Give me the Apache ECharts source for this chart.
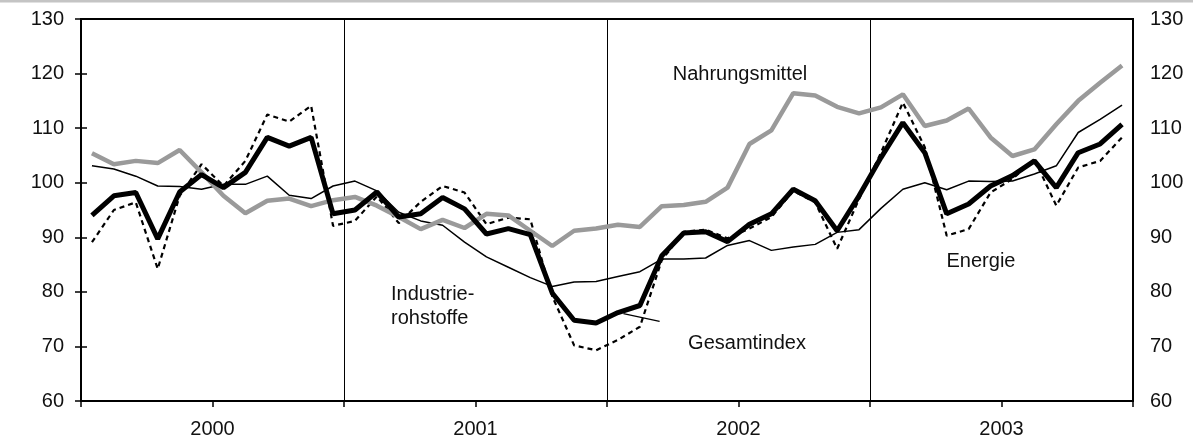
<!DOCTYPE html>
<html>
<head>
<meta charset="utf-8">
<script src="https://cdn.jsdelivr.net/npm/echarts@6/dist/echarts.min.js"></script>
<style>
  html, body { margin: 0; padding: 0; background: #fff; }
  #chart { width: 1193px; height: 439px; }
</style>
</head>
<body>
<div id="chart"></div>
<script>
// Jahre (je 12 Monatswerte)
var years = ['2000', '2001', '2002', '2003']
var yTicks = [60, 70, 80, 90, 100, 110, 120, 130]

var gesamtindex = [
  94.0, 97.6, 98.2, 89.7, 98.3, 101.5, 99.1, 101.9, 108.3, 106.7, 108.3, 94.3,
  95.0, 98.3, 93.7, 94.3, 97.3, 95.2, 90.6, 91.6, 90.5, 79.8, 74.8, 74.3,
  76.2, 77.5, 86.6, 90.8, 91.0, 89.2, 92.4, 94.3, 98.8, 96.7, 91.2, 97.6,
  104.6, 111.0, 105.5, 94.3, 96.1, 99.4, 101.3, 104.0, 99.1, 105.5, 107.1, 110.7
]
var energie = [
  89.1, 95.0, 96.4, 84.2, 97.6, 103.4, 99.4, 104.0, 112.5, 111.2, 114.1, 92.1,
  93.0, 97.5, 92.6, 96.5, 99.4, 98.2, 92.4, 93.6, 93.3, 79.2, 70.2, 69.3,
  71.2, 73.6, 85.8, 91.0, 91.4, 89.8, 91.6, 93.7, 98.5, 96.4, 87.9, 97.0,
  105.5, 114.7, 106.5, 90.3, 91.5, 98.2, 100.7, 104.3, 95.8, 102.8, 104.0, 108.3
]
var industrierohstoffe = [
  103.1, 102.5, 101.2, 99.4, 99.3, 98.8, 99.7, 99.7, 101.2, 97.7, 97.1, 99.4,
  100.3, 98.5, 94.6, 93.0, 92.2, 89.1, 86.4, 84.5, 82.6, 81.0, 81.8, 81.9,
  82.8, 83.7, 86.0, 86.0, 86.2, 88.5, 89.4, 87.6, 88.2, 88.7, 90.9, 91.4,
  95.3, 98.8, 100.0, 98.7, 100.3, 100.2, 100.3, 101.6, 103.1, 109.2, 111.6, 114.2
]
var nahrungsmittel = [
  105.4, 103.4, 104.0, 103.6, 106.0, 101.9, 97.6, 94.4, 96.7, 97.1, 95.7, 96.8,
  97.4, 95.8, 93.7, 91.5, 93.2, 91.7, 94.3, 94.0, 91.2, 88.4, 91.2, 91.6,
  92.3, 91.9, 95.7, 95.9, 96.5, 99.1, 107.1, 109.6, 116.4, 116.0, 113.9, 112.7,
  113.8, 116.2, 110.4, 111.4, 113.6, 108.3, 104.9, 106.1, 110.7, 115.0, 118.3, 121.5
]
// Hinweislinie zum Label "Gesamtindex" (Monat, Wert)
var gesamtLeader = [[24.75, 76.0], [26.4, 74.6]]

var font = 'Liberation Sans'
var textFont = '20px "Liberation Sans"'

// Monatswerte in der Monatsmitte platzieren
function toPoints (arr) {
  return arr.map(function (v, i) { return [i + 0.5, v] })
}

var myChart = echarts.init(document.getElementById('chart'))

var yAxisBase = function (pos) {
  return {
    type: 'value',
    position: pos,
    min: yTicks[0],
    max: yTicks[yTicks.length - 1],
    interval: 10,
    axisLine: { show: true, lineStyle: { color: '#000', width: 2 } },
    axisTick: { show: true, length: 6, lineStyle: { color: '#000', width: 1.5 } },
    axisLabel: { color: '#111', fontFamily: font, fontSize: 20, margin: 17 },
    splitLine: { show: false }
  }
}

var option = {
  animation: false,
  grid: {
    left: 81,
    right: 60,
    top: 19,
    bottom: 37,
    show: true,
    borderColor: '#000',
    borderWidth: 2
  },
  xAxis: [{
    type: 'value',
    min: 0,
    max: years.length * 12,
    interval: 6,
    axisLine: { show: true, lineStyle: { color: '#000', width: 2 } },
    axisTick: { show: true, length: 6, lineStyle: { color: '#000', width: 1.5 } },
    axisLabel: {
      color: '#111',
      fontFamily: font,
      fontSize: 20,
      margin: 18,
      formatter: function (v) {
        return v % 12 === 6 ? years[(v - 6) / 12] : ''
      }
    },
    splitLine: { show: false }
  }, {
    // Jahrestrennlinien
    type: 'value',
    position: 'bottom',
    min: 0,
    max: years.length * 12,
    interval: 12,
    axisLine: { show: false },
    axisTick: { show: false },
    axisLabel: { show: false },
    splitLine: { show: true, lineStyle: { color: '#000', width: 1 } }
  }],
  yAxis: [yAxisBase('left'), yAxisBase('right')],
  series: [
    {
      name: 'Industrierohstoffe',
      type: 'line',
      data: toPoints(industrierohstoffe),
      symbol: 'none',
      lineStyle: { color: '#000', width: 1.5 }
    },
    {
      name: 'Energie',
      type: 'line',
      data: toPoints(energie),
      symbol: 'none',
      lineStyle: { color: '#000', width: 2.2, type: [5, 4] }
    },
    {
      name: 'Nahrungsmittel',
      type: 'line',
      data: toPoints(nahrungsmittel),
      symbol: 'none',
      lineStyle: { color: '#9a9a9a', width: 4.5 }
    },
    {
      name: 'Gesamtindex',
      type: 'line',
      data: toPoints(gesamtindex),
      symbol: 'none',
      lineStyle: { color: '#000', width: 5 },
      markLine: {
        silent: true,
        symbol: 'none',
        label: { show: false },
        lineStyle: { color: '#000', width: 1.2, type: 'solid' },
        data: [[{ coord: gesamtLeader[0] }, { coord: gesamtLeader[1] }]]
      }
    }
  ],
  graphic: [
    { type: 'rect', left: 0, top: 0, shape: { width: 1193, height: 2.5 }, style: { fill: '#c4c4c4' } },
    { type: 'text', x: 740, y: 74, style: { text: 'Nahrungsmittel', font: textFont, fill: '#111', align: 'center', verticalAlign: 'middle' } },
    { type: 'text', x: 391, y: 294, style: { text: 'Industrie-', font: textFont, fill: '#111', align: 'left', verticalAlign: 'middle' } },
    { type: 'text', x: 391, y: 318, style: { text: 'rohstoffe', font: textFont, fill: '#111', align: 'left', verticalAlign: 'middle' } },
    { type: 'text', x: 747, y: 343, style: { text: 'Gesamtindex', font: textFont, fill: '#111', align: 'center', verticalAlign: 'middle' } },
    { type: 'text', x: 981, y: 261, style: { text: 'Energie', font: textFont, fill: '#111', align: 'center', verticalAlign: 'middle' } }
  ]
}
myChart.setOption(option)
</script>
</body>
</html>
